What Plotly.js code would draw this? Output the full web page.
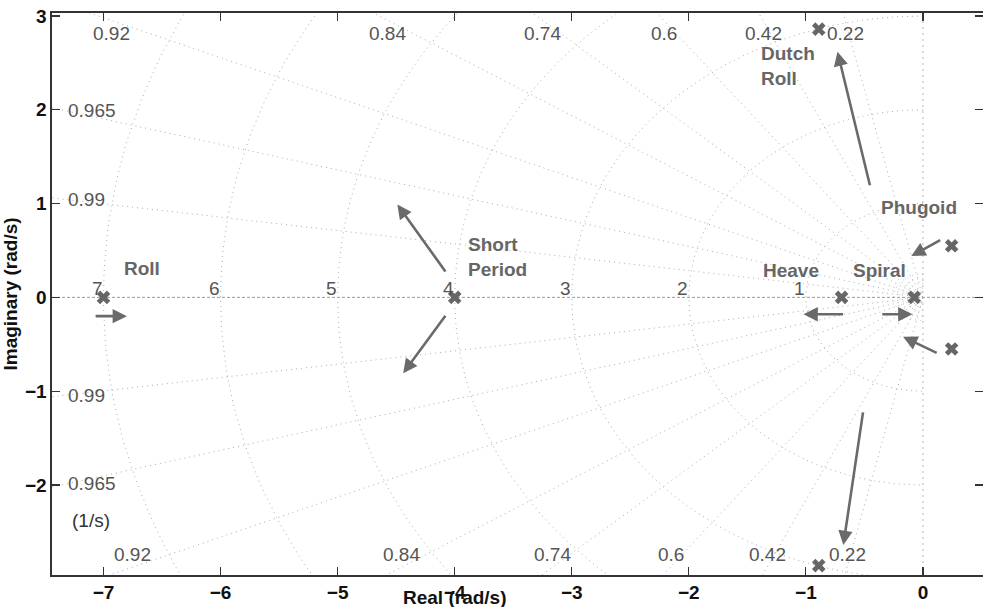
<!DOCTYPE html>
<html><head><meta charset="utf-8">
<script src="https://cdn.plot.ly/plotly-3.0.1.min.js"></script>
<style>html,body{margin:0;padding:0;background:#fff}</style>
</head><body><div id="chart" style="width:983px;height:607px"></div>
<script>
// ---- Poles (open-loop eigenvalues) ----
const poleRe = [-7, -4, -0.695, -0.074, 0.245, 0.245, -0.89, -0.89];
const poleIm = [0, 0, 0, 0, 0.55, -0.55, 2.86, -2.86];

// ---- s-plane grid values ----
const dampingValues = [0.22, 0.42, 0.6, 0.74, 0.84, 0.92, 0.965, 0.99];
const dampingLabels = ['0.22', '0.42', '0.6', '0.74', '0.84', '0.92', '0.965', '0.99'];
const freqValues = [1, 2, 3, 4, 5, 6, 7];
const freqLabels = ['1', '2', '3', '4', '5', '6', '7'];
const minorFreqValues = [0.05, 0.1, 0.15, 0.2, 0.25];

// ---- Axes ----
const xRange = [-7.44, 0.513];
const yRange = [-2.96, 3.032];
const xTickVals = [-7, -6, -5, -4, -3, -2, -1, 0];
const yTickVals = [-2, -1, 0, 1, 2, 3];

// ---- Mode labels ----
const modeLabels = ['Roll', 'Short<br>Period', 'Heave', 'Spiral', 'Phugoid', 'Dutch<br>Roll'];
const modeLabelX = [-6.67, -3.90, -1.13, -0.37, -0.03, -1.40];
const modeLabelY = [0.31, 0.43, 0.29, 0.29, 0.96, 2.47];
const modeLabelAnchor = ['center', 'left', 'center', 'center', 'center', 'left'];

// ---- Pole-migration arrows (tail -> head) ----
const arrowFromX = [-7.08, -4.07, -4.07, -0.45, -0.51, 0.16, 0.13, -0.67, -0.36];
const arrowFromY = [-0.20, 0.26, -0.18, 1.18, -1.21, 0.62, -0.60, -0.18, -0.18];
const arrowToX = [-6.80, -4.49, -4.44, -0.73, -0.68, -0.10, -0.17, -1.02, -0.09];
const arrowToY = [-0.20, 0.99, -0.81, 2.62, -2.64, 0.44, -0.42, -0.18, -0.18];

// ===== build grid geometry =====
const gridColor = '#ababab';
const traces = [];

// damping-ratio rays
(function () {
  const xs = [], ys = [];
  const R = 15;
  dampingValues.forEach(z => {
    const s = Math.sqrt(1 - z * z);
    xs.push(0, -R * z, null, 0, -R * z, null);
    ys.push(0, R * s, null, 0, -R * s, null);
  });
  traces.push({x: xs, y: ys, mode: 'lines', hoverinfo: 'skip', showlegend: false,
    line: {color: gridColor, width: 1, dash: '1px,4px'}});
})();

// natural-frequency semicircles
function circleTrace(vals, color) {
  const xs = [], ys = [];
  vals.forEach(r => {
    for (let i = 0; i <= 180; i++) {
      const t = Math.PI / 2 + Math.PI * i / 180;
      xs.push(r * Math.cos(t)); ys.push(r * Math.sin(t));
    }
    xs.push(null); ys.push(null);
  });
  return {x: xs, y: ys, mode: 'lines', hoverinfo: 'skip', showlegend: false,
    line: {color: color, width: 1, dash: '1px,4px'}};
}
traces.push(circleTrace(freqValues, gridColor));
traces.push(circleTrace(minorFreqValues, '#c4c4c4'));

// real & imaginary axis lines
traces.push({x: [xRange[0], xRange[1]], y: [0, 0], mode: 'lines', hoverinfo: 'skip', showlegend: false,
  line: {color: '#9a9a9a', width: 1, dash: '3px,2px'}});
traces.push({x: [0, 0], y: [yRange[0], yRange[1]], mode: 'lines', hoverinfo: 'skip', showlegend: false,
  line: {color: '#b5b5b5', width: 1, dash: '2px,4px'}});

// poles
traces.push({x: poleRe, y: poleIm, mode: 'markers', hoverinfo: 'x+y', showlegend: false,
  marker: {symbol: 'x', size: 12, color: '#666666', line: {width: 0}}});

// ===== annotations =====
const ann = [];
const gridFont = {family: 'Liberation Sans, Arial, sans-serif', size: 19, color: '#555555'};
const boldFont = {family: 'Liberation Sans, Arial, sans-serif', size: 19, color: '#666666', weight: 'bold'};

// frequency labels on the real axis
freqValues.forEach((w, i) => {
  ann.push({x: -w, y: 0, xref: 'x', yref: 'y', text: freqLabels[i], showarrow: false,
    xanchor: 'right', yanchor: 'bottom', yshift: -3, font: gridFont, borderpad: 0});
});

// damping labels near the plot border
const yTopIn = yRange[1] - 0.08, yBotIn = yRange[0] + 0.085, xLeftIn = xRange[0] + 0.12;
dampingValues.forEach((z, i) => {
  const k = Math.sqrt(1 - z * z) / z;
  const xt = -yTopIn / k;
  if (xt >= xRange[0] + 0.2) {
    ann.push({x: xt, y: yTopIn, xref: 'x', yref: 'y', text: dampingLabels[i], showarrow: false,
      xanchor: 'center', yanchor: 'top', font: gridFont});
    ann.push({x: yBotIn / k, y: yBotIn, xref: 'x', yref: 'y', text: dampingLabels[i], showarrow: false,
      xanchor: 'center', yanchor: 'bottom', font: gridFont});
  } else {
    const yl = -xLeftIn * k;
    ann.push({x: xLeftIn, y: yl, xref: 'x', yref: 'y', text: dampingLabels[i], showarrow: false,
      xanchor: 'left', yanchor: 'middle', font: gridFont});
    ann.push({x: xLeftIn, y: -yl, xref: 'x', yref: 'y', text: dampingLabels[i], showarrow: false,
      xanchor: 'left', yanchor: 'middle', font: gridFont});
  }
});
ann.push({x: xLeftIn + 0.03, y: -2.38, xref: 'x', yref: 'y', text: '(1/s)', showarrow: false,
  xanchor: 'left', yanchor: 'middle', font: {family: gridFont.family, size: 19, color: '#333333'}});

// mode labels
modeLabels.forEach((t, i) => {
  ann.push({x: modeLabelX[i], y: modeLabelY[i], xref: 'x', yref: 'y', text: t, showarrow: false,
    xanchor: modeLabelAnchor[i], yanchor: 'middle', align: 'left', font: boldFont});
});

// arrows
arrowToX.forEach((hx, i) => {
  ann.push({x: hx, y: arrowToY[i], ax: arrowFromX[i], ay: arrowFromY[i], xref: 'x', yref: 'y',
    axref: 'x', ayref: 'y', text: '', showarrow: true, arrowhead: 2, arrowsize: 1.1,
    arrowwidth: 2.6, arrowcolor: '#6a6a6a', standoff: 0, startstandoff: 0});
});

// x-axis title (overlaps the tick labels as in the original)
ann.push({x: -4, y: -0.04, xref: 'x', yref: 'paper', text: 'Real (rad/s)', showarrow: false,
  xanchor: 'center', yanchor: 'middle',
  font: {family: 'Liberation Sans, Arial, sans-serif', size: 19, color: '#111111', weight: 'bold'}});

const tickFont = {family: 'Liberation Sans, Arial, sans-serif', size: 19, color: '#111111', weight: 'bold'};
const layout = {
  width: 983, height: 607,
  margin: {l: 52, r: 0, t: 13, b: 32},
  paper_bgcolor: '#ffffff', plot_bgcolor: '#ffffff',
  showlegend: false,
  xaxis: {range: xRange, tickvals: xTickVals, ticks: 'inside', ticklen: 8, tickwidth: 1.2,
    tickcolor: '#333', showline: true, linecolor: '#333', linewidth: 1.6, mirror: 'ticks',
    showgrid: false, zeroline: false, tickfont: tickFont, automargin: false},
  yaxis: {range: yRange, tickvals: yTickVals, ticks: 'inside', ticklen: 8, tickwidth: 1.2,
    tickcolor: '#333', showline: true, linecolor: '#333', linewidth: 1.6, mirror: 'ticks',
    showgrid: false, zeroline: false, tickfont: tickFont, automargin: false,
    title: {text: 'Imaginary (rad/s)', font: tickFont}},
  annotations: ann
};

Plotly.newPlot('chart', traces, layout, {displayModeBar: false, staticPlot: true});
</script>
</body></html>
